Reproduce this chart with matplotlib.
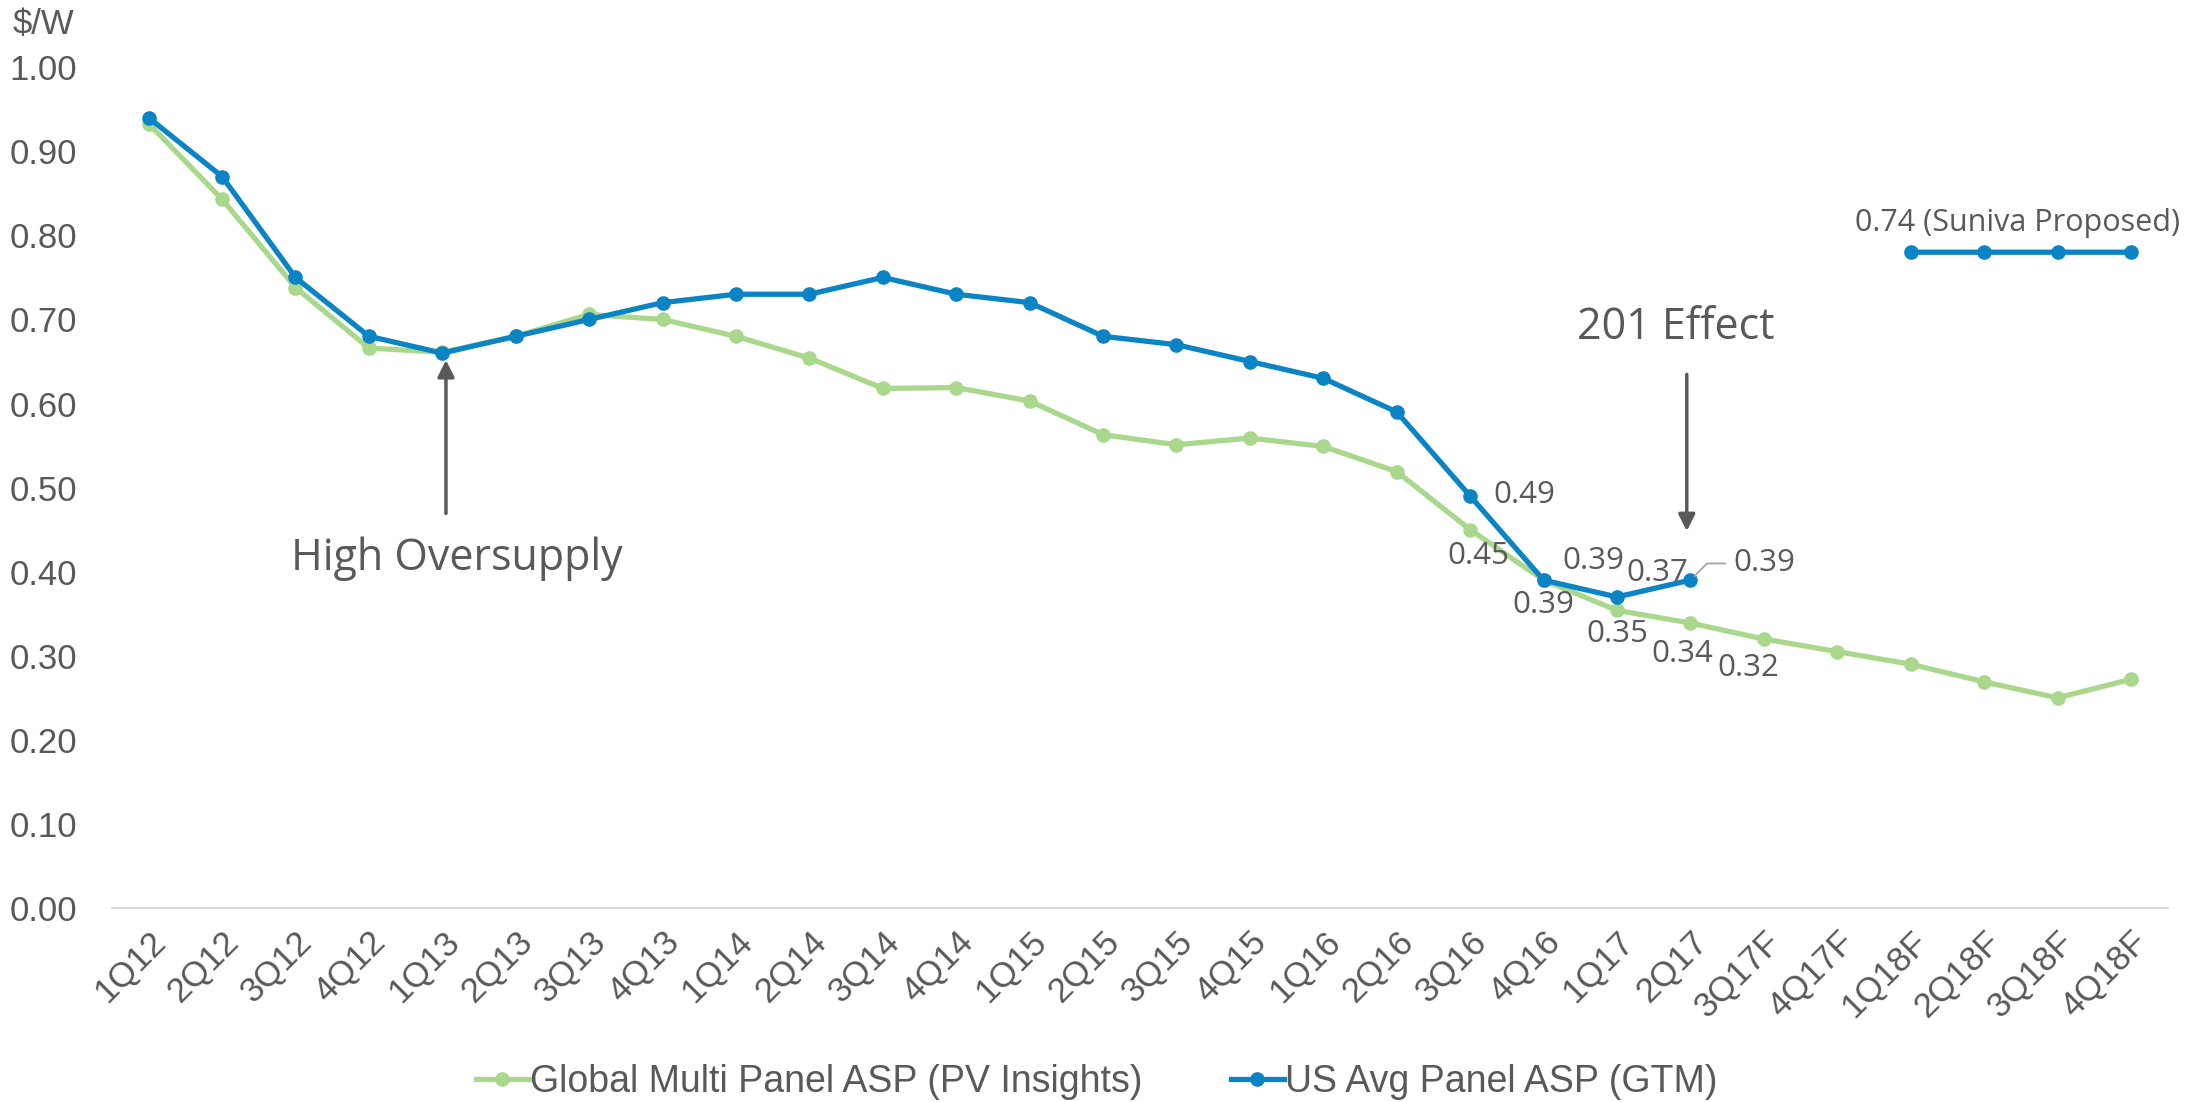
import numpy as np
import matplotlib.pyplot as plt
from matplotlib.transforms import ScaledTranslation

quarters = ["1Q12", "2Q12", "3Q12", "4Q12", "1Q13", "2Q13", "3Q13", "4Q13",
            "1Q14", "2Q14", "3Q14", "4Q14", "1Q15", "2Q15", "3Q15", "4Q15",
            "1Q16", "2Q16", "3Q16", "4Q16", "1Q17", "2Q17", "3Q17F", "4Q17F",
            "1Q18F", "2Q18F", "3Q18F", "4Q18F"]

global_asp = [0.933, 0.843, 0.738, 0.666, 0.661, 0.680, 0.706, 0.700,
              0.680, 0.654, 0.618, 0.619, 0.603, 0.563, 0.551, 0.559,
              0.549, 0.519, 0.450, 0.390, 0.354, 0.339, 0.320, 0.305,
              0.290, 0.269, 0.250, 0.272]

us_asp = [0.94, 0.87, 0.75, 0.68, 0.66, 0.68, 0.70, 0.72,
          0.73, 0.73, 0.75, 0.73, 0.72, 0.68, 0.67, 0.65,
          0.63, 0.59, 0.49, 0.39, 0.37, 0.39, np.nan, np.nan,
          0.78, 0.78, 0.78, 0.78]

suniva_label = "0.74 (Suniva Proposed)"

GREEN = "#A9D88C"
BLUE = "#0A84C4"
TEXT = "#595959"

fig = plt.figure(figsize=(21.94, 11.02), dpi=100)
ax = fig.add_axes([0.051, 0.176, 0.937, 0.763])

x = np.arange(len(quarters))
ax.plot(x, global_asp, color=GREEN, lw=3.8, marker="o", ms=9.5,
        label="Global Multi Panel ASP (PV Insights)", zorder=2)
ax.plot(x, us_asp, color=BLUE, lw=3.8, marker="o", ms=9.5,
        label="US Avg Panel ASP (GTM)", zorder=3)

ax.set_xlim(-0.5, len(quarters) - 0.5)
ax.set_ylim(0, 1.0)
ax.set_yticks(np.arange(0, 1.01, 0.1))
ax.set_yticklabels([f"{v:.2f}" for v in np.arange(0, 1.01, 0.1)])
ax.set_xticks(x)
ax.set_xticklabels(quarters, rotation=45, ha="right", rotation_mode="anchor")
shift = ScaledTranslation(-0.09, -0.05, fig.dpi_scale_trans)
for lbl in ax.get_xticklabels():
    lbl.set_transform(lbl.get_transform() + shift)

for s in ["top", "right", "left"]:
    ax.spines[s].set_visible(False)
ax.spines["bottom"].set_color("#D9D9D9")
ax.spines["bottom"].set_linewidth(1.5)
ax.tick_params(axis="both", length=0, labelsize=25, labelcolor=TEXT,
               labelfontfamily="Liberation Sans")
ax.tick_params(axis="y", pad=25)
ax.tick_params(axis="x", pad=12)

fig.text(13 / 2194, 1 - 25 / 1102, "$/W", fontsize=25, color=TEXT,
         family="Liberation Sans", ha="left", va="center")

# data labels: (series, index, offset in points)
lab_font = dict(fontsize=22.5, color=TEXT, family="Open Sans",
                ha="center", va="center")
labels = [(us_asp, 18, (39, 1)), (global_asp, 18, (6, -19)),
          (us_asp, 19, (36, 14)), (global_asp, 19, (0, -18)),
          (us_asp, 20, (29, 17)), (global_asp, 20, (0, -17)),
          (global_asp, 21, (-6, -22)), (global_asp, 22, (-11, -21))]
for series, i, off in labels:
    ax.annotate(f"{series[i]:.2f}", (i, series[i]), xytext=off,
                textcoords="offset points", **lab_font)

ax.annotate(f"{us_asp[21]:.2f}", (21, us_asp[21]), xytext=(31, 12),
            textcoords="offset points", fontsize=22.5, color=TEXT,
            family="Open Sans", ha="left", va="center",
            arrowprops=dict(arrowstyle="-", color="#A6A6A6", lw=1.3,
                            relpos=(0, 0.5), shrinkA=4, shrinkB=4,
                            connectionstyle="angle,angleA=0,angleB=45,rad=0"))

ax.text(25.45, 0.815, suniva_label, fontsize=22, color=TEXT, family="Open Sans",
        ha="center", va="center")

# callouts
arrow = dict(arrowstyle="-|>", color=TEXT, lw=2.5, mutation_scale=25)
ax.annotate("", xy=(4.05, 0.655), xytext=(4.05, 0.466), arrowprops=arrow)
ax.text(4.2, 0.415, "High Oversupply", fontsize=31, color=TEXT,
        family="Open Sans", ha="center", va="center")
ax.annotate("", xy=(20.95, 0.445), xytext=(20.95, 0.638), arrowprops=arrow)
ax.text(20.8, 0.69, "201 Effect", fontsize=31, color=TEXT,
        family="Open Sans", ha="center", va="center")

handles, labs = ax.get_legend_handles_labels()
leg = fig.legend(handles, labs, loc="center", bbox_to_anchor=(0.5, 0.018),
                 ncol=2, frameon=False, handlelength=1.4, handletextpad=0.05,
                 columnspacing=2.35, prop={"family": "Liberation Sans", "size": 27})
for t in leg.get_texts():
    t.set_color(TEXT)

fig.savefig("out.png", dpi=100)
